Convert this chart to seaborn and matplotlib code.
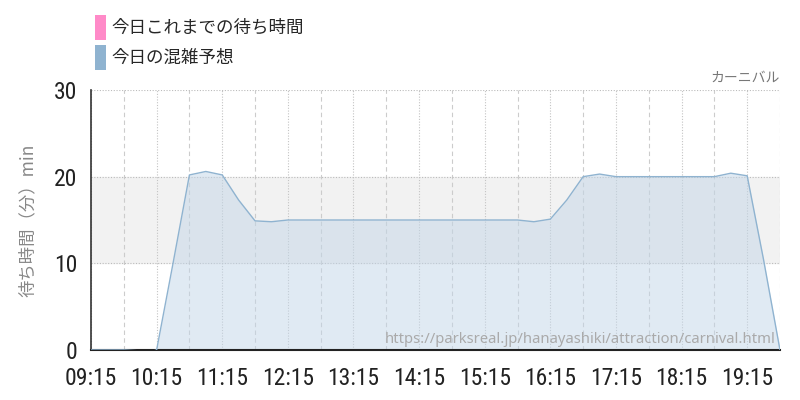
import pandas as pd
import matplotlib
matplotlib.use("Agg")
import matplotlib.pyplot as plt
import matplotlib.dates as mdates
from matplotlib import font_manager
from matplotlib.patches import Patch
import seaborn as sns

times = ["09:15", "09:30", "09:45", "10:00", "10:10", "10:15", "10:30", "10:45",
         "11:00", "11:15", "11:30", "11:45", "12:00", "12:15", "13:15", "14:15",
         "15:15", "15:45", "16:00", "16:15", "16:30", "16:45", "17:00", "17:15",
         "18:15", "18:45", "19:00", "19:15", "19:30", "19:45"]
forecast = [0.0, 0.0, 0.0, -0.1, -0.2, 0.0, 10.0, 20.2,
            20.6, 20.2, 17.3, 14.9, 14.8, 15.0, 15.0, 15.0,
            15.0, 15.0, 14.8, 15.1, 17.3, 20.0, 20.3, 20.0,
            20.0, 20.0, 20.4, 20.1, 10.4, 0.0]
yticks = [0, 10, 20, 30]

legend_labels = ["今日これまでの待ち時間", "今日の混雑予想"]
legend_colors = ["#ff8ac8", "#8fb3d0"]
title = "カーニバル"
ylabel = "待ち時間（分）min"
url = "https://parksreal.jp/hanayashiki/attraction/carnival.html"

df = pd.DataFrame({"time": pd.to_datetime("2024-01-01 " + pd.Series(times)),
                   "wait": forecast})

sns.set_style("white")
jp = ["Noto Sans CJK JP", "DejaVu Sans"]
plt.rcParams["font.family"] = jp

# pick a condensed face for the tick numbers if one is installed
installed = {f.name for f in font_manager.fontManager.ttflist}
narrow = [n for n in ["Roboto Condensed", "Liberation Sans Narrow", "DejaVu Sans Condensed",
                      "Open Sans Condensed", "Roboto"] if n in installed] + ["DejaVu Sans"]
cond_ok = narrow[0] in ("Roboto Condensed", "Liberation Sans Narrow", "Open Sans Condensed")

fig = plt.figure(figsize=(8, 4), dpi=100)
ax = fig.add_axes([91 / 800, 50 / 400, 689 / 800, 260 / 400])

# band between 10 and 20
ax.axhspan(10, 20, color="#f2f2f2", zorder=0)

sns.lineplot(data=df, x="time", y="wait", ax=ax, color="#8fb3d0", linewidth=1.0, zorder=3)
ax.fill_between(df["time"], df["wait"], 0, color="#c3d6e8", alpha=0.5, linewidth=0, zorder=2)

x0 = pd.Timestamp("2024-01-01 09:15")
x1 = pd.Timestamp("2024-01-01 19:45")
ax.set_xlim(x0, x1)
ax.set_ylim(0, 30)
ax.set_yticks(yticks)

ax.xaxis.set_major_locator(mdates.MinuteLocator(byminute=[15]))
ax.xaxis.set_minor_locator(mdates.MinuteLocator(byminute=[45]))
ax.xaxis.set_major_formatter(mdates.DateFormatter("%H:%M"))

ax.grid(axis="y", which="major", color="#bbbbbb", linestyle=(0, (1, 1.5)), linewidth=0.8)
ax.grid(axis="x", which="major", color="#c4c4c4", linestyle=(0, (1, 1.5)), linewidth=0.8)
ax.grid(axis="x", which="minor", color="#cccccc", linestyle=(0, (4, 3)), linewidth=0.8)
ax.set_axisbelow(True)

for s in ["top", "right"]:
    ax.spines[s].set_visible(False)
ax.spines["left"].set_color("#333333")
ax.spines["bottom"].set_color("#222222")
ax.spines["left"].set_linewidth(1.2)
ax.spines["bottom"].set_linewidth(1.5)

ax.tick_params(axis="x", which="major", length=10, color="#c8c8c8", width=1, pad=2)
ax.tick_params(axis="x", which="minor", length=0)
ax.tick_params(axis="y", length=8, color="#c8c8c8", width=1, pad=2)
for lab in ax.get_xticklabels() + ax.get_yticklabels():
    lab.set_family(narrow)
    lab.set_fontsize(17 if cond_ok else 15)
    if not cond_ok:
        lab.set_fontstretch("condensed")
    lab.set_color("#222222")

ax.set_xlabel("")
ax.set_ylabel(ylabel, color="#888888", fontsize=12.5, labelpad=12)

ax.text(1.0, 1.02, title, transform=ax.transAxes, ha="right", va="bottom",
        fontsize=10, color="#777777")
ax.text(0.993, 0.012, url, transform=ax.transAxes, ha="right", va="bottom",
        fontsize=10.7, color="#aaaaaa", family=["Noto Sans", "DejaVu Sans"], zorder=4)

handles = [Patch(facecolor=c, edgecolor="none") for c in legend_colors]
fig.legend(handles, legend_labels, loc="upper left", bbox_to_anchor=(95 / 800, 1 - 15 / 400),
           frameon=False, fontsize=12.6, handlelength=0.63, handleheight=1.8,
           handletextpad=0.3, labelspacing=0.3, borderpad=0, borderaxespad=0)

fig.savefig("out.png", dpi=100)
